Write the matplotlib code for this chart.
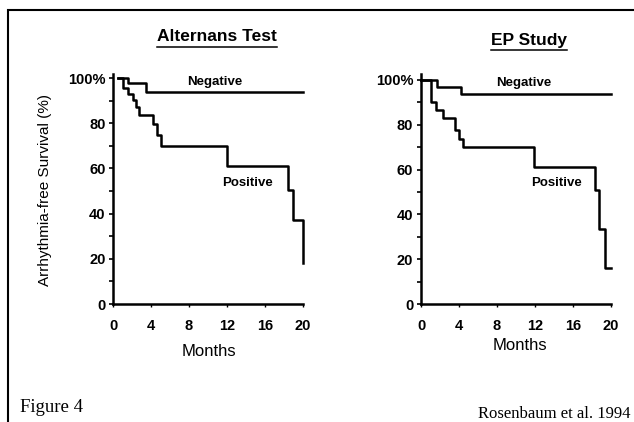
import matplotlib
matplotlib.use("Agg")
import matplotlib.pyplot as plt
from matplotlib.lines import Line2D
from matplotlib.patches import Rectangle

# survival curves (months, % free of arrhythmia)
alt_neg_t = [0.45, 1.5, 3.5, 20.0]
alt_neg_s = [100, 97.8, 94.0, 94.0]
alt_pos_t = [0.45, 1.06, 1.6, 2.05, 2.35, 2.7, 4.2, 4.6, 5.0, 12.0, 18.5, 18.95, 20.05]
alt_pos_s = [100, 95.8, 92.8, 90.3, 87.4, 83.8, 79.5, 75.0, 69.9, 61.2, 50.4, 37.2, 18.0]

ep_neg_t = [0.0, 1.65, 4.18, 20.0]
ep_neg_s = [100, 96.7, 93.8, 93.8]
ep_pos_t = [0.0, 1.02, 1.58, 2.35, 3.58, 4.0, 4.46, 11.88, 18.35, 18.8, 19.37, 20.0]
ep_pos_s = [100, 90.3, 86.6, 83.2, 77.7, 73.7, 70.0, 61.0, 50.9, 33.3, 16.2, 16.2]

xticks = [0, 4, 8, 12, 16, 20]
yticks = [0, 20, 40, 60, 80, 100]
ylabels = ["0", "20", "40", "60", "80", "100%"]

sans = "Liberation Sans"
serif = "Liberation Serif"

W, H = 634, 422
fig = plt.figure(figsize=(W / 100, H / 100), dpi=100)


def fx(px):
    return px / W


def fy(py):
    return 1 - py / H


def panel(rect, top, negt, negs, post, poss, title, tx, ty, neg_xy, pos_xy):
    ax = fig.add_axes(rect)
    ax.plot(negt, negs, drawstyle="steps-post", color="black", lw=1.8, clip_on=False)
    ax.plot(post, poss, drawstyle="steps-post", color="black", lw=1.8, clip_on=False)
    ax.set_xlim(0, 20)
    ax.set_ylim(0, top)
    for s in ["top", "right"]:
        ax.spines[s].set_visible(False)
    for s in ["left", "bottom"]:
        ax.spines[s].set_linewidth(1.8)
    ax.set_xticks(xticks)
    ax.set_xticklabels([str(v) for v in xticks], fontfamily=sans,
                       fontweight="bold", fontsize=10.5)
    ax.set_yticks(yticks)
    ax.set_yticklabels(ylabels, fontfamily=sans, fontweight="bold", fontsize=10.5)
    ax.set_yticks([10, 30, 50, 70, 90], minor=True)
    ax.tick_params(axis="y", which="both", length=3, width=1.2, pad=2.5)
    ax.tick_params(axis="x", length=2, width=1, pad=8.5)
    ax.text(neg_xy[0], neg_xy[1], "Negative", ha="center", va="center",
            fontfamily=sans, fontweight="bold", fontsize=9.5)
    ax.text(pos_xy[0], pos_xy[1], "Positive", ha="center", va="center",
            fontfamily=sans, fontweight="bold", fontsize=9.5)
    t = fig.text(fx(tx), fy(ty), title, ha="center", va="center",
                 fontfamily=sans, fontweight="bold", fontsize=12.5)
    return ax, t


axl, t1 = panel([fx(113.3), fy(304), 189.4 / W, 230 / H], 101.8,
                alt_neg_t, alt_neg_s, alt_pos_t, alt_pos_s,
                "Alternans Test", 217, 36.5, (10.7, 98.4), (14.2, 53.4))
axr, t2 = panel([fx(421), fy(304), 189.7 / W, 229.7 / H], 102.5,
                ep_neg_t, ep_neg_s, ep_pos_t, ep_pos_s,
                "EP Study", 529, 40.5, (10.8, 98.4), (14.3, 53.9))

# underline the two titles
fig.canvas.draw()
r = fig.canvas.get_renderer()
for t, uy in [(t1, 46.8), (t2, 49.5)]:
    bb = t.get_window_extent(r)
    fig.add_artist(Line2D([bb.x0 / W, bb.x1 / W], [fy(uy), fy(uy)],
                          transform=fig.transFigure, color="black", lw=1.1))

fig.text(fx(45), fy(190), "Arrhythmia-free Survival (%)", rotation=90,
         ha="center", va="center", fontfamily=sans, fontsize=11)
fig.text(fx(209), fy(352), "Months", ha="center", va="center",
         fontfamily=sans, fontsize=12)
fig.text(fx(520), fy(345), "Months", ha="center", va="center",
         fontfamily=sans, fontsize=12)

fig.text(fx(20), fy(412), "Figure 4", ha="left", va="baseline",
         fontfamily=serif, fontsize=13.5)
fig.text(fx(478), fy(418), "Rosenbaum et al. 1994", ha="left", va="baseline",
         fontfamily=serif, fontsize=12)

# outer frame, runs off the right and bottom edges
fig.add_artist(Rectangle((fx(8), -0.1), 1.2, fy(10) + 0.1,
                         transform=fig.transFigure, fill=False,
                         edgecolor="black", lw=1.5))

fig.savefig("out.png", dpi=100)
